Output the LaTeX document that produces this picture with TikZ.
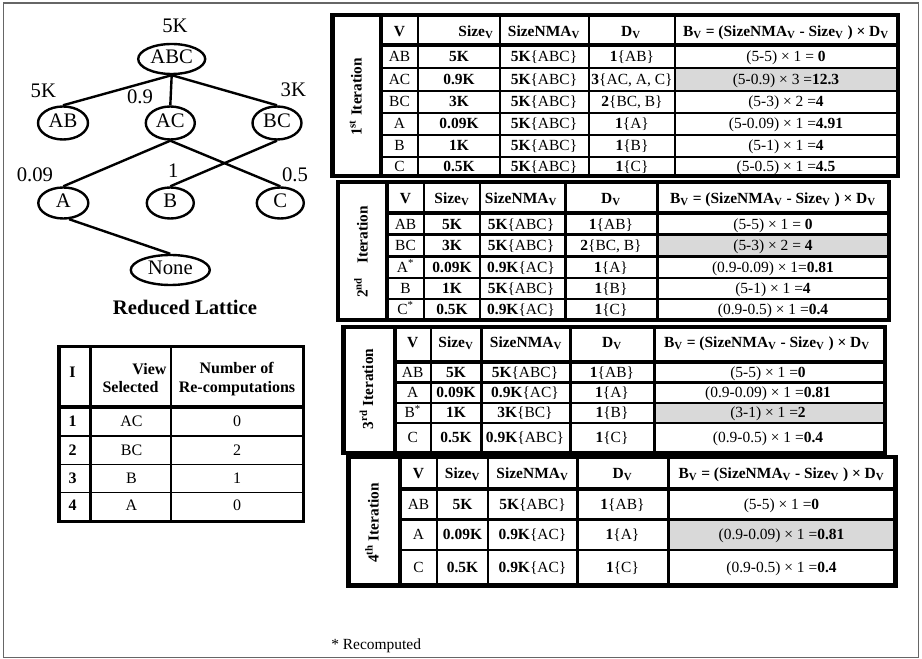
\documentclass[tikz,border=0pt]{standalone}
\usepackage{fontspec}
\setmainfont{Liberation Serif}
\usetikzlibrary{shapes.geometric}
\newcommand\mylatfont{\fontsize{15.5}{18}\selectfont}
\newcommand\mycellfont{\fontsize{11.6}{13}\selectfont}
\newcommand\myltfont{\fontsize{12}{14}\selectfont}
\newcommand\myKV[2]{\textbf{#1}\{#2\}}
\newcommand\myBV[2]{#1\textbf{#2}}
\newcommand\subV{\textsubscript{V}}
\definecolor{hlgray}{RGB}{217,217,217}
\begin{document}
\begin{tikzpicture}[x=0.75pt,y=-0.75pt,
  lat/.style={draw, ellipse, line width=1.8pt, inner sep=0pt, font=\mylatfont, text height=0.68em, text depth=0pt},
  latlbl/.style={inner sep=0pt, font=\mylatfont, text height=0.68em, text depth=0pt},
  latedge/.style={line width=1.8pt},
  cell/.style={inner sep=0pt, font=\mycellfont, text height=0.68em, text depth=0pt},
  bcell/.style={cell, font=\mycellfont\bfseries},
  iterlbl/.style={inner sep=0pt, rotate=90, font=\fontsize{11.5}{13}\selectfont\bfseries, text height=0.68em, text depth=0pt},
  tout/.style={line width=3.4pt},
  tthk/.style={line width=3pt},
  tvl/.style={line width=1.9pt},
  trl/.style={line width=1.6pt},
  trl4/.style={line width=2.2pt},
  hlfill/.style={fill=hlgray},
  ltcell/.style={inner sep=0pt, font=\myltfont, text height=0.68em, text depth=0pt},
  ltbcell/.style={ltcell, font=\myltfont\bfseries},
  outframe/.style={draw=black!60, line width=1.1pt}]
\useasboundingbox (0,0) rectangle (922,659);
\draw[outframe] (3.5,3) rectangle (918.3,657.7);

% ---------------- Lattice ----------------
\node[lat, minimum width=50.25pt, minimum height=22.5pt] (ABC) at (171.7,59) {ABC};
\node[lat, minimum width=37.5pt, minimum height=24.75pt] (AB) at (63,123) {AB};
\node[lat, minimum width=36.75pt, minimum height=24.75pt] (AC) at (170.3,123) {AC};
\node[lat, minimum width=36.75pt, minimum height=24.75pt] (BC) at (277,123) {BC};
\node[lat, minimum width=37.5pt, minimum height=23.25pt] (A) at (63.3,203) {A};
\node[lat, minimum width=35.25pt, minimum height=23.25pt] (B) at (170.3,203) {B};
\node[lat, minimum width=35.25pt, minimum height=23.25pt] (C) at (280.3,203) {C};
\node[lat, minimum width=59.25pt, minimum height=22.5pt] (None) at (170.3,270) {None};
\draw[latedge] (ABC.south) -- (AB.north);
\draw[latedge] (ABC.south) -- (AC.north);
\draw[latedge] (ABC.south) -- (BC.north);
\draw[latedge] (AC.south) -- (A.north);
\draw[latedge] (AC.south) -- (C.north);
\draw[latedge] (BC.south) -- (B.north);
\draw[latedge] (A.-70) -- (None.north);
\node[latlbl] (lABC) at (175,28.3) {5K};
\node[latlbl] (lAB) at (43.3,92.7) {5K};
\node[latlbl] (lAC) at (140,99) {0.9};
\node[latlbl] (lBC) at (293.3,91.7) {3K};
\node[latlbl] (lA) at (35,176.7) {0.09};
\node[latlbl] (lB) at (173.3,173.3) {1};
\node[latlbl] (lC) at (295,176.7) {0.5};
\node[latlbl, font=\mylatfont\bfseries] (ltitle) at (185,310) {Reduced Lattice};

% ---------------- Left table ----------------
\foreach \yy in {436,464.3,492.7} \draw[line width=1pt] (59,\yy) -- (303.3,\yy);
\draw[line width=1.6pt] (170.7,346.7) -- (170.7,521.3);
\draw[line width=2.3pt] (90.5,346.7) -- (90.5,521.3);
\draw[line width=3pt] (59,407) -- (303.3,407);
\draw[line width=2.5pt] (59,346.7) rectangle (303.3,521.3);
\node[ltbcell] (lhI) at (72.5,373) {I};
\node[ltbcell] (lhV1) at (149.5,370) {View};
\node[ltbcell] (lhV2) at (130.5,388.3) {Selected};
\node[ltbcell] (lhN1) at (236.7,369.3) {Number of};
\node[ltbcell] (lhN2) at (237,388.3) {Re-computations};
\foreach \yy/\pa/\pb/\pc [count=\i] in {422/1/AC/0, 451/2/BC/2, 479/3/B/1, 506/4/A/0}{
  \node[ltbcell] (li\i) at (72.5,\yy) {\pa};
  \node[ltcell] (lv\i) at (131.5,\yy) {\pb};
  \node[ltcell] (ln\i) at (237,\yy) {\pc};
}

% ---------------- Table 1 ----------------
\fill[hlfill] (675,68.3) rectangle (897,90.7);
\foreach \xx in {418,500,589,675} \draw[tvl] (\xx,15) -- (\xx,176);
\foreach \yy in {68.3,90.7,113.3,135,156.7} \draw[trl] (381,\yy) -- (898,\yy);
\draw[tthk] (381,45.5) -- (898,45.5);
\draw[tthk] (381,15) -- (381,176);
\draw[tout] (332.5,15) rectangle (898,176);
\node[iterlbl] (it1) at (357,97) {1\textsuperscript{st} Iteration};
\node[bcell] (t1hv) at (399.5,32) {V};
\node[bcell] (t1hs) at (476,32) {Size\subV};
\node[bcell] (t1hn) at (544,32) {SizeNMA\subV};
\node[bcell] (t1hd) at (631,32) {D\subV};
\node[bcell] (t1hb) at (786,32) {B\subV{} = (SizeNMA\subV{} - Size\subV{} ) × D\subV};
\foreach \yy/\pa/\pb/\pc/\pd/\pe [count=\i] in {
  57/AB/5K/{\myKV{5K}{ABC}}/{\myKV{1}{AB}}/{\myBV{(5-5) × 1 = }{0}},
  79.5/AC/0.9K/{\myKV{5K}{ABC}}/{\myKV{3}{AC, A, C}}/{\myBV{(5-0.9) × 3 =}{12.3}},
  102/BC/3K/{\myKV{5K}{ABC}}/{\myKV{2}{BC, B}}/{\myBV{(5-3) × 2 =}{4}},
  124/A/0.09K/{\myKV{5K}{ABC}}/{\myKV{1}{A}}/{\myBV{(5-0.09) × 1 =}{4.91}},
  146/B/1K/{\myKV{5K}{ABC}}/{\myKV{1}{B}}/{\myBV{(5-1) × 1 =}{4}},
  166.5/C/0.5K/{\myKV{5K}{ABC}}/{\myKV{1}{C}}/{\myBV{(5-0.5) × 1 =}{4.5}}}{
  \node[cell] (t1v\i) at (399.5,\yy) {\pa};
  \node[bcell] (t1s\i) at (459,\yy) {\pb};
  \node[cell] (t1n\i) at (544,\yy) {\pc};
  \node[cell] (t1d\i) at (632,\yy) {\pd};
  \node[cell] (t1b\i) at (786,\yy) {\pe};
}

% ---------------- Table 2 ----------------
\fill[hlfill] (657.7,234.5) rectangle (888,256.5);
\foreach \xx in {424,480,565.5,657.7} \draw[tvl] (\xx,182) -- (\xx,320);
\foreach \yy in {234.5,256.5,278.3,299} \draw[trl] (387,\yy) -- (889,\yy);
\draw[tthk] (387,213) -- (889,213);
\draw[tthk] (387,182) -- (387,320);
\draw[tout] (338,182) rectangle (889,320);
\node[iterlbl] (it2) at (363,252) {2\textsuperscript{nd}\hspace{0.9em}Iteration};
\node[bcell] (t2hv) at (405.5,199) {V};
\node[bcell] (t2hs) at (452,199) {Size\subV};
\node[bcell] (t2hn) at (521,199) {SizeNMA\subV};
\node[bcell] (t2hd) at (611,199) {D\subV};
\node[bcell] (t2hb) at (773,199) {B\subV{} = (SizeNMA\subV{} - Size\subV{} ) × D\subV};
\foreach \yy/\pa/\pb/\pc/\pd/\pe [count=\i] in {
  224.5/AB/5K/{\myKV{5K}{ABC}}/{\myKV{1}{AB}}/{\myBV{(5-5) × 1 = }{0}},
  246/BC/3K/{\myKV{5K}{ABC}}/{\myKV{2}{BC, B}}/{\myBV{(5-3) × 2 = }{4}},
  267.5/{A\textsuperscript{*}}/0.09K/{\myKV{0.9K}{AC}}/{\myKV{1}{A}}/{\myBV{(0.9-0.09) × 1=}{0.81}},
  289/B/1K/{\myKV{5K}{ABC}}/{\myKV{1}{B}}/{\myBV{(5-1) × 1 =}{4}},
  310/{C\textsuperscript{*}}/0.5K/{\myKV{0.9K}{AC}}/{\myKV{1}{C}}/{\myBV{(0.9-0.5) × 1 =}{0.4}}}{
  \node[cell] (t2v\i) at (405.5,\yy) {\pa};
  \node[bcell] (t2s\i) at (452,\yy) {\pb};
  \node[cell] (t2n\i) at (521,\yy) {\pc};
  \node[cell] (t2d\i) at (611,\yy) {\pd};
  \node[cell] (t2b\i) at (773,\yy) {\pe};
}

% ---------------- Table 3 ----------------
\fill[hlfill] (654.7,403.3) rectangle (884,423.3);
\foreach \xx in {431,481.3,570.3,654.7} \draw[tvl] (\xx,327) -- (\xx,453);
\foreach \yy in {382.5,403.3,423.3} \draw[trl] (394.5,\yy) -- (885,\yy);
\draw[tthk] (394.5,362) -- (885,362);
\draw[tthk] (394.5,327) -- (394.5,453);
\draw[tout] (343.3,327) rectangle (885,453);
\node[iterlbl] (it3) at (368.5,389) {3\textsuperscript{rd} Iteration};
\node[bcell] (t3hv) at (412.7,343) {V};
\node[bcell] (t3hs) at (456,343) {Size\subV};
\node[bcell] (t3hn) at (526,343) {SizeNMA\subV};
\node[bcell] (t3hd) at (612,343) {D\subV};
\node[bcell] (t3hb) at (767,343) {B\subV{} = (SizeNMA\subV{} - Size\subV{} ) × D\subV};
\foreach \yy/\pa/\pb/\pc/\pd/\pe [count=\i] in {
  373/AB/5K/{\myKV{5K}{ABC}}/{\myKV{1}{AB}}/{\myBV{(5-5) × 1 =}{0}},
  393/A/0.09K/{\myKV{0.9K}{AC}}/{\myKV{1}{A}}/{\myBV{(0.9-0.09) × 1 =}{0.81}},
  413.3/{B\textsuperscript{*}}/1K/{\myKV{3K}{BC}}/{\myKV{1}{B}}/{\myBV{(3-1) × 1 =}{2}},
  438/C/0.5K/{\myKV{0.9K}{ABC}}/{\myKV{1}{C}}/{\myBV{(0.9-0.5) × 1 =}{0.4}}}{
  \node[cell] (t3v\i) at (412.7,\yy) {\pa};
  \node[bcell] (t3s\i) at (456,\yy) {\pb};
  \node[cell] (t3n\i) at (525,\yy) {\pc};
  \node[cell] (t3d\i) at (612,\yy) {\pd};
  \node[cell] (t3b\i) at (768,\yy) {\pe};
}

% ---------------- Table 4 ----------------
\fill[hlfill] (668.3,519.5) rectangle (894,550);
\foreach \xx in {437,488,577.3,668.3} \draw[tvl] (\xx,457) -- (\xx,585.5);
\foreach \yy in {519.5,550} \draw[trl4] (400,\yy) -- (895.3,\yy);
\draw[tthk] (400,489.3) -- (895.3,489.3);
\draw[tthk] (400,457) -- (400,585.5);
\draw[tout] (348.7,457) rectangle (895.3,585.5);
\node[iterlbl] (it4) at (374,523) {4\textsuperscript{th} Iteration};
\node[bcell] (t4hv) at (418.5,474) {V};
\node[bcell] (t4hs) at (462.5,474) {Size\subV};
\node[bcell] (t4hn) at (532.5,474) {SizeNMA\subV};
\node[bcell] (t4hd) at (622.5,474) {D\subV};
\node[bcell] (t4hb) at (781.5,474) {B\subV{} = (SizeNMA\subV{} - Size\subV{} ) × D\subV};
\foreach \yy/\pa/\pb/\pc/\pd/\pe [count=\i] in {
  504.5/AB/5K/{\myKV{5K}{ABC}}/{\myKV{1}{AB}}/{\myBV{(5-5) × 1 =}{0}},
  535/A/0.09K/{\myKV{0.9K}{AC}}/{\myKV{1}{A}}/{\myBV{(0.9-0.09) × 1 =}{0.81}},
  568/C/0.5K/{\myKV{0.9K}{AC}}/{\myKV{1}{C}}/{\myBV{(0.9-0.5) × 1 =}{0.4}}}{
  \node[cell] (t4v\i) at (418.5,\yy) {\pa};
  \node[bcell] (t4s\i) at (462.5,\yy) {\pb};
  \node[cell] (t4n\i) at (532.5,\yy) {\pc};
  \node[cell] (t4d\i) at (622.5,\yy) {\pd};
  \node[cell] (t4b\i) at (781.5,\yy) {\pe};
}

\node[cell, anchor=west] (recomp) at (331,644.5) {* Recomputed};
\end{tikzpicture}
\end{document}
